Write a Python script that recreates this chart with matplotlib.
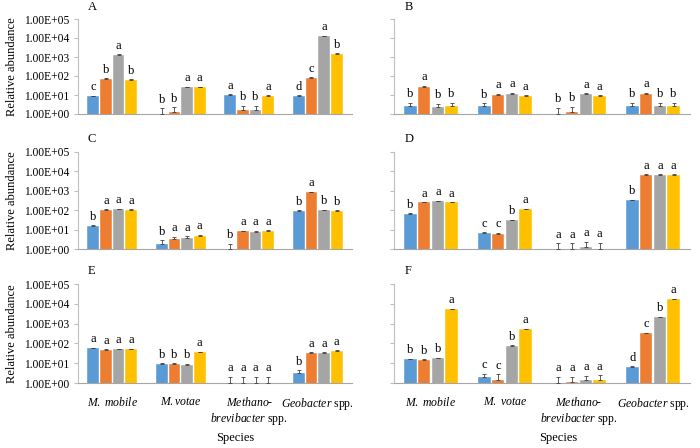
import numpy as np
import matplotlib
matplotlib.use('Agg')
import matplotlib.pyplot as plt

plt.rcParams['font.family'] = ['Liberation Serif', 'DejaVu Serif']
plt.rcParams['mathtext.fontset'] = 'custom'
plt.rcParams['mathtext.rm'] = 'Liberation Serif'
plt.rcParams['mathtext.it'] = 'Liberation Serif:italic'

# Categorias (linha inferior de cada coluna)
methano = r'$\mathit{Methano}$-' + '\n' + r'$\mathit{brevibacter}$ spp.'
species_left = [r'$\mathit{M.\ mobile}$', r'$\mathit{M.votae}$', methano, r'$\mathit{Geobacter}$ spp.']
species_right = [r'$\mathit{M.\ mobile}$', r'$\mathit{M.\ votae}$', methano, r'$\mathit{Geobacter}$ spp.']
tick_labels = ['1.00E+00', '1.00E+01', '1.00E+02', '1.00E+03', '1.00E+04', '1.00E+05']
colors = ['#5B9BD5', '#ED7D31', '#A5A5A5', '#FFC000']

# Valores por painel: linhas = espécies, colunas = tratamentos (azul, laranja, cinza, amarelo)
vals_A = [[8.5, 70, 1300, 65], [1.0, 1.2, 25, 26], [10, 1.6, 1.7, 8.5], [9, 80, 12500, 1450]]
vals_B = [[2.7, 28, 2.3, 2.7], [2.8, 10.4, 11.8, 8.5], [1.0, 1.3, 11, 8.5], [2.7, 11.8, 2.7, 2.7]]
vals_C = [[15.6, 107, 110, 105], [1.9, 3.4, 3.8, 4.6], [1.0, 8, 7.7, 8], [92, 870, 100, 95]]
vals_D = [[67, 250, 295, 250], [6.4, 6.2, 31, 116], [1.0, 1.0, 1.26, 1.05], [330, 6700, 6700, 6700]]
vals_E = [[57, 47, 51, 51], [8.8, 8.8, 8.5, 36], [1.05, 1.05, 1.0, 1.0], [3.1, 33, 34, 43]]
vals_F = [[15.8, 14.6, 17.8, 5200], [1.9, 1.5, 75, 525], [1.0, 1.1, 1.37, 1.4], [6.2, 340, 2100, 17400]]

# Barras de erro (apenas para cima)
err_A = [[0.8, 4, 60, 4], [1.0, 1.0, 1.5, 1.5], [0.8, 1.1, 1.1, 1.2], [0.8, 5, 500, 80]]
err_B = [[1.2, 2, 1.2, 1.2], [1.0, 1.0, 1.2, 1.0], [1.1, 1.1, 1.0, 1.0], [1.2, 1.2, 1.2, 1.2]]
err_C = [[1.5, 6, 6, 6], [1.0, 1.0, 0.8, 0.8], [0.9, 0.8, 0.8, 1.0], [5, 50, 6, 6]]
err_D = [[3, 12, 12, 12], [1.0, 0.8, 2, 6], [1.0, 1.0, 1.1, 1.0], [15, 300, 300, 300]]
err_E = [[3, 3, 3, 3], [1.0, 1.0, 1.0, 2], [1.0, 1.0, 1.0, 1.0], [1.2, 2, 2, 2]]
err_F = [[1.0, 1.0, 1.0, 250], [1.0, 1.2, 4, 30], [1.0, 1.0, 1.0, 1.0], [0.8, 15, 100, 800]]

# Letras de significância
let_A = [['c', 'b', 'a', 'b'], ['b', 'b', 'a', 'a'], ['a', 'b', 'b', 'a'], ['d', 'c', 'a', 'b']]
let_B = [['b', 'a', 'b', 'b'], ['b', 'a', 'a', 'a'], ['b', 'b', 'a', 'a'], ['b', 'a', 'b', 'b']]
let_C = [['b', 'a', 'a', 'a'], ['b', 'a', 'a', 'a'], ['b', 'a', 'a', 'a'], ['b', 'a', 'b', 'b']]
let_D = [['b', 'a', 'a', 'a'], ['c', 'c', 'b', 'a'], ['a', 'a', 'a', 'a'], ['b', 'a', 'a', 'a']]
let_E = [['a', 'a', 'a', 'a'], ['b', 'b', 'b', 'a'], ['a', 'a', 'a', 'a'], ['b', 'a', 'a', 'a']]
let_F = [['b', 'b', 'b', 'a'], ['c', 'c', 'b', 'a'], ['a', 'a', 'a', 'a'], ['d', 'c', 'b', 'a']]

panels = [('A', vals_A, err_A, let_A), ('B', vals_B, err_B, let_B),
          ('C', vals_C, err_C, let_C), ('D', vals_D, err_D, let_D),
          ('E', vals_E, err_E, let_E), ('F', vals_F, err_F, let_F)]

fig = plt.figure(figsize=(7, 4.48), dpi=100)

W, H = 700.0, 448.0
cols = [(78, 352), (394, 690)]
rows = [(19, 114), (152, 249), (284, 383)]
species_x = [235, 558]          # posição do título "Species" em cada coluna

bar_w = 0.17
step = 0.185

for idx, (tag, vals, errs, lets) in enumerate(panels):
    r, c = idx // 2, idx % 2
    x0, x1 = cols[c]
    y0, y1 = rows[r]
    ax = fig.add_axes([x0 / W, 1 - y1 / H, (x1 - x0) / W, (y1 - y0) / H])
    vals = np.array(vals, dtype=float)
    errs = np.array(errs, dtype=float)
    x = np.arange(4)
    for k in range(4):
        xp = x + (k - 1.5) * step
        heights = vals[:, k]
        ax.bar(xp, heights, width=bar_w, bottom=0, color=colors[k], edgecolor='white', linewidth=0.3, zorder=2)
        ax.errorbar(xp, heights, yerr=[np.zeros(4), errs[:, k]], fmt='none',
                    ecolor='#404040', elinewidth=0.6, capsize=1.2, capthick=0.6, zorder=3)
        for i in range(4):
            top = heights[i] + errs[i, k]
            ax.text(xp[i], top * 1.35, lets[i][k], ha='center', va='bottom', fontsize=9)
    ax.set_yscale('log')
    ax.set_ylim(1, 1e5)
    ax.set_xlim(-0.5, 3.5)
    ax.set_yticks([1, 10, 100, 1000, 10000, 100000])
    ax.minorticks_off()
    if c == 0:
        ax.set_yticklabels(tick_labels, fontsize=8.3)
        ax.set_ylabel('Relative abundance', fontsize=9)
        ax.yaxis.set_label_coords(-0.22, 0.5)
    else:
        ax.set_yticklabels([])
    ax.tick_params(axis='y', length=3, color='#BFBFBF', pad=3)
    ax.tick_params(axis='x', length=0)
    for s in ['top', 'right']:
        ax.spines[s].set_visible(False)
    ax.spines['left'].set_color('#BFBFBF')
    ax.spines['left'].set_linewidth(0.8)
    ax.spines['bottom'].set_color('#A6A6A6')
    ax.spines['bottom'].set_linewidth(0.8)
    ax.set_xticks(x)
    if r == 2:
        ax.set_xticklabels(species_left if c == 0 else species_right, fontsize=8.5, va='top')
        ax.tick_params(axis='x', pad=9)
        fig.text(species_x[c] / W, 1 - 438 / H, 'Species', fontsize=9, ha='center', va='center')
    else:
        ax.set_xticklabels([])
    ax.text(0.035, 1.13, tag, transform=ax.transAxes, fontsize=9, ha='left', va='center')

fig.savefig('out.png', dpi=100)
